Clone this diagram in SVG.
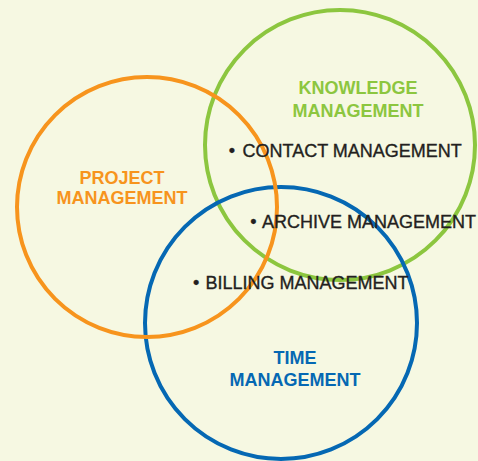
<svg xmlns="http://www.w3.org/2000/svg" width="478" height="461" viewBox="0 0 478 461">
<style>
.ring{fill:none;stroke-width:4}
.lbl{font-family:"Liberation Sans",Arial,sans-serif;font-weight:bold;font-size:18px;text-anchor:middle}
.item{font-family:"Liberation Sans",Arial,sans-serif;font-size:18px;fill:#231f20;stroke:#231f20;stroke-width:0.35}
</style>
<rect width="478" height="461" fill="#f6f8e2"/>
<g id="knowledge">
<circle class="ring" cx="340" cy="145" r="135" stroke="#8cc63f"/>
</g>
<g id="time">
<circle class="ring" cx="281" cy="323" r="136" stroke="#0568b3"/>
</g>
<g id="project">
<circle class="ring" cx="147" cy="207" r="130" stroke="#f7941d"/>
</g>
<g id="labels">
<text class="lbl" fill="#f7941d" x="122" y="184">PROJECT</text>
<text class="lbl" fill="#f7941d" x="122" y="204">MANAGEMENT</text>
<text class="lbl" fill="#8cc63f" x="358" y="94">KNOWLEDGE</text>
<text class="lbl" fill="#8cc63f" x="358" y="117">MANAGEMENT</text>
<text class="lbl" fill="#0568b3" x="295" y="364">TIME</text>
<text class="lbl" fill="#0568b3" x="295" y="386">MANAGEMENT</text>
</g>
<g id="items">
<text class="item" y="157"><tspan x="228.8">•</tspan><tspan x="242.5">CONTACT MANAGEMENT</tspan></text>
<text class="item" y="228"><tspan x="250.2">•</tspan><tspan x="262">ARCHIVE MANAGEMENT</tspan></text>
<text class="item" y="289"><tspan x="192.9">•</tspan><tspan x="205.5">BILLING MANAGEMENT</tspan></text>
</g>
</svg>
